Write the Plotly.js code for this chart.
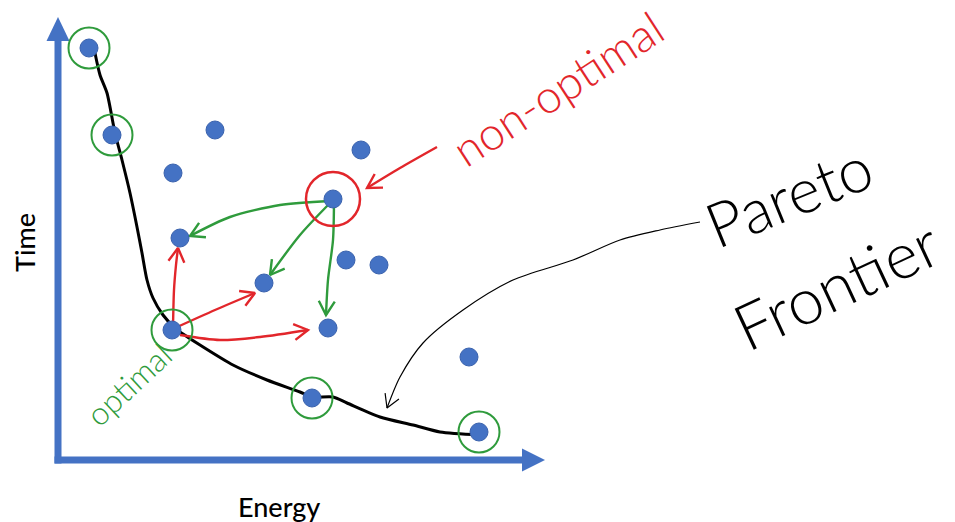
<!DOCTYPE html>
<html>
<head>
<meta charset="utf-8">
<script src="https://cdn.plot.ly/plotly-3.0.1.min.js"></script>
<style>html,body{margin:0;padding:0;background:#fff;}#chart{width:955px;height:522px;}</style>
</head>
<body>
<div id="chart"></div>
<script>
// ---- data (Energy, Time in arbitrary units) ----
const energy = [0.62, 1.08, 3.14, 2.30, 6.06, 5.50, 2.44, 5.76, 6.42, 4.12, 2.28, 5.40, 8.22, 5.08, 8.42];
const time   = [8.24, 6.50, 6.60, 5.74, 6.20, 5.22, 4.44, 4.00, 3.90, 3.54, 2.60, 2.64, 2.06, 1.24, 0.56];
const optimalIdx = [0, 1, 10, 13, 14];
const nonOptimalIdx = [5];

const frontierE = [0.74, 0.84, 0.98, 1.14, 1.28, 1.44, 1.58, 1.68, 1.78, 1.90, 2.10, 2.34, 2.56, 2.84, 3.50, 4.18, 4.84, 5.08, 5.50, 5.78, 6.44, 7.10, 7.64, 8.44];
const frontierT = [8.14, 7.70, 7.34, 6.54, 6.00, 5.34, 4.66, 4.14, 3.60, 3.24, 2.90, 2.64, 2.48, 2.30, 1.90, 1.60, 1.36, 1.26, 1.26, 1.14, 0.86, 0.70, 0.56, 0.50];

// arrows: red = dominated by optimal, green = dominating the non-optimal
const redArrows = [
  {e: [2.30, 2.32, 2.36, 2.40], t: [2.64, 3.40, 3.90, 4.24]},
  {e: [2.34, 3.14, 3.94], t: [2.64, 3.00, 3.34]},
  {e: [2.44, 3.24, 4.04, 5.00], t: [2.50, 2.40, 2.46, 2.60]},
  {e: [7.58, 6.84, 6.18], t: [6.26, 5.84, 5.44]}
];
const greenArrows = [
  {e: [5.44, 4.44, 3.44, 2.64], t: [5.18, 5.10, 4.86, 4.48]},
  {e: [5.44, 4.84, 4.24], t: [5.14, 4.50, 3.70]},
  {e: [5.52, 5.50, 5.40, 5.36], t: [5.14, 4.40, 3.60, 2.90]}
];
const pointerE = [12.84, 12.04, 11.24, 10.30, 9.10, 8.10, 7.30, 6.84, 6.58];
const pointerT = [4.76, 4.60, 4.40, 4.00, 3.60, 3.00, 2.34, 1.66, 1.04];

const labels = {x: 'Energy', y: 'Time', nonOpt: 'non-optimal', opt: 'optimal', pareto1: 'Pareto', pareto2: 'Frontier'};

// ---- styles ----
const BLUE = '#4472C4', GREEN = '#2f9b3c', RED = '#e2262b';
const HAND = 'Lato, "Open Sans", sans-serif';

function head(e, t, len, ang) {
  const n = e.length;
  let dx = e[n-1] - e[n-2], dy = t[n-1] - t[n-2];
  const m = Math.hypot(dx, dy); dx /= m; dy /= m;
  const r = a => [Math.cos(a)*dx - Math.sin(a)*dy, Math.sin(a)*dx + Math.cos(a)*dy];
  const a = ang * Math.PI / 180;
  const b1 = r(a), b2 = r(-a);
  return {
    x: [e[n-1] - len*b1[0], e[n-1], e[n-1] - len*b2[0]],
    y: [t[n-1] - len*b1[1], t[n-1], t[n-1] - len*b2[1]]
  };
}

const traces = [];
function arrow(p, color, width, len) {
  traces.push({x: p.e, y: p.t, mode: 'lines', line: {color: color, width: width, shape: 'spline', smoothing: 0.8}, hoverinfo: 'skip'});
  const h = head(p.e, p.t, len, 30);
  traces.push({x: h.x, y: h.y, mode: 'lines', line: {color: color, width: width}, hoverinfo: 'skip'});
}

traces.push({x: frontierE, y: frontierT, mode: 'lines', line: {color: '#000', width: 3, shape: 'spline', smoothing: 0.7}, hoverinfo: 'skip'});
redArrows.forEach(p => arrow(p, RED, 2.4, 0.32));
greenArrows.forEach(p => arrow(p, GREEN, 2.4, 0.32));
arrow({e: pointerE, t: pointerT}, '#000', 1.2, 0.3);

traces.push({x: energy, y: time, mode: 'markers', marker: {color: BLUE, size: 18, line: {color: '#3a62ad', width: 1}}, hoverinfo: 'x+y'});
traces.push({x: optimalIdx.map(i => energy[i]), y: optimalIdx.map(i => time[i]), mode: 'markers',
  marker: {symbol: 'circle-open', size: 41, color: GREEN, line: {color: GREEN, width: 2}}, hoverinfo: 'skip'});
traces.push({x: nonOptimalIdx.map(i => energy[i]), y: nonOptimalIdx.map(i => time[i]), mode: 'markers',
  marker: {symbol: 'circle-open', size: 54, color: RED, line: {color: RED, width: 2.5}}, hoverinfo: 'skip'});

const layout = {
  width: 955, height: 522,
  margin: {l: 0, r: 0, t: 0, b: 0},
  paper_bgcolor: '#fff', plot_bgcolor: '#fff',
  showlegend: false,
  xaxis: {range: [-1.16, 17.94], visible: false, fixedrange: true},
  yaxis: {range: [-1.24, 9.2], visible: false, fixedrange: true},
  shapes: [
    {type: 'line', x0: 0, y0: -0.07, x1: 0, y1: 8.4, line: {color: BLUE, width: 7}, layer: 'below'},
    {type: 'line', x0: -0.07, y0: 0, x1: 9.3, y1: 0, line: {color: BLUE, width: 7}, layer: 'below'},
    {type: 'path', path: 'M -0.23,8.38 L 0.23,8.38 L 0,8.86 Z', fillcolor: BLUE, line: {width: 0}, layer: 'below'},
    {type: 'path', path: 'M 9.28,0.23 L 9.28,-0.23 L 9.74,0 Z', fillcolor: BLUE, line: {width: 0}, layer: 'below'}
  ],
  annotations: [
    {x: 4.42, y: -0.92, text: labels.x, showarrow: false, font: {family: 'Lato, "Open Sans", sans-serif', size: 27, color: '#000', weight: 500}},
    {x: -0.68, y: 4.34, text: labels.y, showarrow: false, textangle: -90, font: {family: 'Lato, "Open Sans", sans-serif', size: 27, color: '#000', weight: 500}},
    {x: 9.98, y: 7.44, text: labels.nonOpt, showarrow: false, textangle: -33, font: {family: HAND, size: 46, color: RED, weight: 300}},
    {x: 1.40, y: 1.52, text: labels.opt, showarrow: false, textangle: -43, font: {family: HAND, size: 32, color: GREEN, weight: 300}},
    {x: 14.60, y: 5.30, text: labels.pareto1, showarrow: false, textangle: -22, font: {family: HAND, size: 62, color: '#000', weight: 300}},
    {x: 15.55, y: 3.52, text: labels.pareto2, showarrow: false, textangle: -25, font: {family: HAND, size: 64, color: '#000', weight: 300}}
  ]
};

Plotly.newPlot('chart', traces, layout, {displayModeBar: false, staticPlot: true});
</script>
</body>
</html>
